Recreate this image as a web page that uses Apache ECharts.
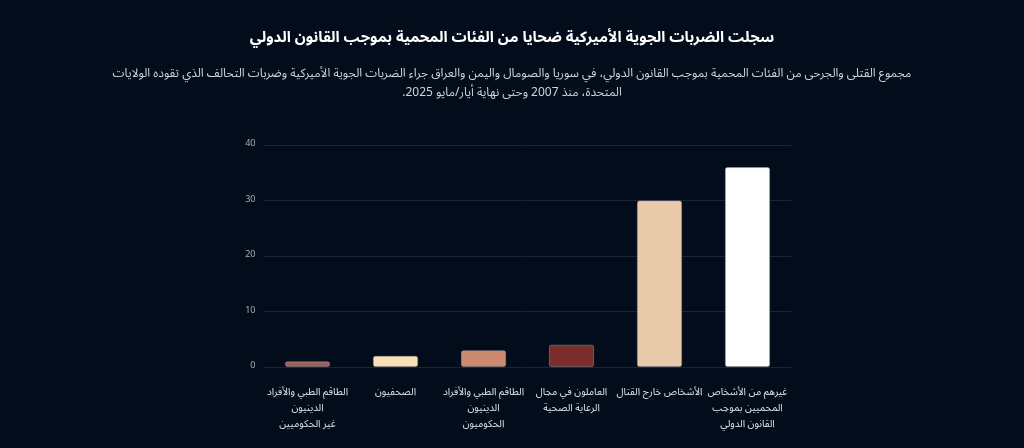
<!DOCTYPE html>
<html dir="rtl">
<head>
<meta charset="utf-8">
<script src="https://cdn.jsdelivr.net/npm/echarts@6/dist/echarts.min.js"></script>
<style>
html,body{margin:0;padding:0;background:#020c1b;}
#c{width:1024px;height:448px;}
</style>
</head>
<body>
<div id="c" dir="rtl"></div>
<script>
const titleText = "سجلت الضربات الجوية الأميركية ضحايا من الفئات المحمية بموجب القانون الدولي";
const subtitleLine1 = "مجموع القتلى والجرحى من الفئات المحمية بموجب القانون الدولي، في سوريا والصومال واليمن والعراق جراء الضربات الجوية الأميركية وضربات التحالف الذي تقوده الولايات";
const subtitleLine2 = "المتحدة، منذ 2007 وحتى نهاية أيار/مايو 2025.";
const categories = [
  "الطاقم الطبي والأفراد\nالدينيون\nغير الحكوميين",
  "الصحفيون",
  "الطاقم الطبي والأفراد\nالدينيون\nالحكوميون",
  "العاملون في مجال\nالرعاية الصحية",
  "الأشخاص خارج القتال",
  "غيرهم من الأشخاص\nالمحميين بموجب\nالقانون الدولي"
];
const values = [1, 2, 3, 4, 30, 36];
const barColors = ["#a0605c", "#fbdfb5", "#cd8a70", "#7b2d2b", "#e8caab", "#ffffff"];
const yTicks = [0, 10, 20, 30, 40];

const FONT = "'Noto Sans Arabic','DejaVu Sans',sans-serif";
const subStyle = {color: '#d0d4da', fontSize: 12, fontWeight: 'normal', fontFamily: FONT};
const chart = echarts.init(document.getElementById('c'));
chart.setOption({
  backgroundColor: '#020c1b',
  animation: false,
  title: [
    {
      text: titleText,
      left: 'center',
      top: 27,
      textStyle: {color: '#ffffff', fontSize: 15, fontWeight: 'bold', fontFamily: FONT}
    },
    {
      text: subtitleLine1,
      left: 'center',
      top: 64,
      textStyle: subStyle
    },
    {
      text: subtitleLine2,
      left: 'center',
      top: 83,
      textStyle: subStyle
    }
  ],
  grid: {left: 263.5, right: 232.5, top: 145, bottom: 81, containLabel: false},
  xAxis: {
    type: 'category',
    data: categories,
    axisLine: {show: false},
    axisTick: {show: false},
    axisLabel: {color: '#e0e3e8', fontSize: 10, fontFamily: FONT, lineHeight: 16, margin: 18, interval: 0}
  },
  yAxis: {
    type: 'value',
    min: yTicks[0],
    max: yTicks[yTicks.length - 1],
    interval: 10,
    axisLine: {show: false},
    axisTick: {show: false},
    axisLabel: {color: '#a9adb5', fontSize: 9, fontFamily: FONT, margin: 8},
    splitLine: {lineStyle: {color: '#1c2535', width: 1}}
  },
  series: [{
    type: 'bar',
    data: values.map((v, i) => ({value: v, itemStyle: {color: barColors[i]}})),
    barWidth: 45,
    itemStyle: {borderColor: 'rgba(160,160,170,0.6)', borderWidth: 0.8, borderRadius: 2}
  }]
});
</script>
</body>
</html>
